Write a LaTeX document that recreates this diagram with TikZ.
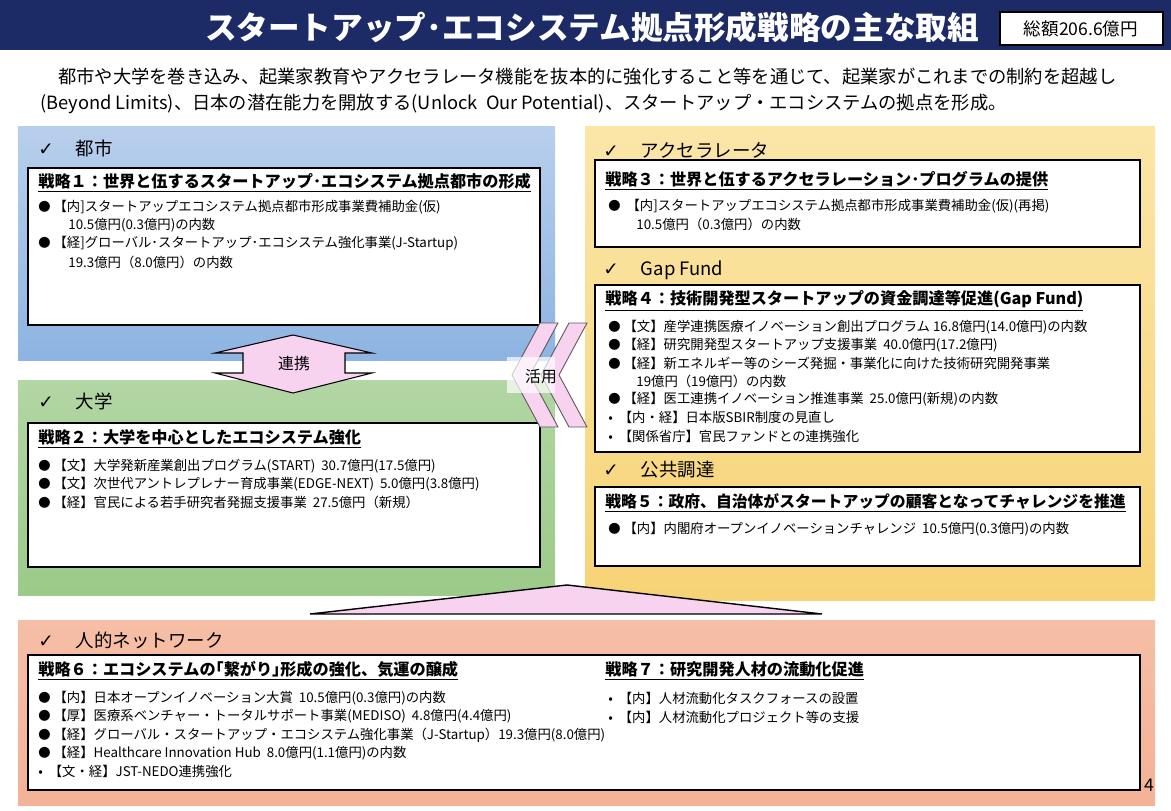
\documentclass[tikz,border=0pt]{standalone}
\usepackage{fontspec}
\setmainfont{Noto Sans CJK JP}
\newfontfamily\djv{DejaVu Sans}
\usetikzlibrary{positioning}
\definecolor{navy}{HTML}{1C2A66}
\definecolor{pinkf}{HTML}{F8D3F0}
\tikzset{
  sec/.style={anchor=west,inner sep=0pt,font=\fontsize{10.5}{12}\selectfont},
  head/.style={anchor=west,inner sep=0pt,font=\fontsize{9.2}{11}\selectfont\bfseries},
  item/.style={anchor=west,inner sep=0pt,font=\fontsize{7.6}{9}\selectfont},
  wbox/.style={draw=black,line width=1.3pt,fill=white},
}
\newcommand{\chk}{{\djv\char"2713}\hspace{1.2em}}
\newcommand{\bl}{{\scriptsize●}}
\begin{document}
\begin{tikzpicture}[x=0.02cm,y=-0.02cm]
\useasboundingbox (0,0) rectangle (1171,811);

% title bar
\fill[navy] (0,0) rectangle (1171,50);
\node[text=white,font=\fontsize{18}{20}\selectfont\bfseries] (title) at (592,27) {スタートアップ･エコシステム拠点形成戦略の主な取組};
\draw[fill=white,line width=1pt] (1000,12) rectangle (1163,45);
\node[font=\fontsize{10}{12}\selectfont] (total) at (1081,29) {総額206.6億円};

% intro
\node[anchor=west,inner sep=0pt,font=\fontsize{10.4}{12}\selectfont] (intro1) at (58,77) {都市や大学を巻き込み、起業家教育やアクセラレータ機能を抜本的に強化すること等を通じて、起業家がこれまでの制約を超越し};
\node[anchor=west,inner sep=0pt,font=\fontsize{10.4}{12}\selectfont] (intro2) at (40,104) {(Beyond Limits)、日本の潜在能力を開放する(Unlock\ \ Our Potential)、スタートアップ・エコシステムの拠点を形成。};

% colour panels
\shade[top color={rgb,255:red,184;green,207;blue,236},bottom color={rgb,255:red,141;green,180;blue,226}] (18,127) rectangle (555,360);
\shade[top color={rgb,255:red,178;green,214;blue,164},bottom color={rgb,255:red,156;green,202;blue,136}] (18,380) rectangle (555,595);
\shade[top color={rgb,255:red,251;green,230;blue,168},bottom color={rgb,255:red,247;green,211;blue,118}] (585,127) rectangle (1155,600);
\shade[top color={rgb,255:red,246;green,190;blue,166},bottom color={rgb,255:red,244;green,178;blue,150}] (18,620) rectangle (1155,805);

% section labels
\node[sec] (city) at (38,148) {\chk 都市};
\node[sec] (univ) at (38,401) {\chk 大学};
\node[sec] (accel) at (603,150) {\chk アクセラレータ};
\node[sec] (gap) at (603,270) {\chk Gap Fund};
\node[sec] (proc) at (603,470) {\chk 公共調達};
\node[sec] (human) at (38,640) {\chk 人的ネットワーク};

% white boxes
\draw[wbox] (28,168) rectangle (540,325);
\draw[wbox] (28,423) rectangle (540,567);
\draw[wbox] (595,160) rectangle (1140,247);
\draw[wbox] (595,285) rectangle (1140,452);
\draw[wbox] (595,487) rectangle (1140,566);
\draw[wbox] (28,655) rectangle (1140,790);

% strategy 1
\node[head] (s1) at (38,183) {\underline{戦略１：世界と伍するスタートアップ･エコシステム拠点都市の形成}};
\node[item] (s1a) at (38,207) {\bl\ 【内]スタートアップエコシステム拠点都市形成事業費補助金(仮)};
\node[item] (s1b) at (68,225) {10.5億円(0.3億円)の内数};
\node[item] (s1c) at (38,243) {\bl\ 【経]グローバル･スタートアップ･エコシステム強化事業(J-Startup)};
\node[item] (s1d) at (68,262) {19.3億円（8.0億円）の内数};

% strategy 2
\node[head] (s2) at (38,439) {\underline{戦略２：大学を中心としたエコシステム強化}};
\foreach \t [count=\i] in {【文】大学発新産業創出プログラム(START)\ \ 30.7億円(17.5億円),
  【文】次世代アントレプレナー育成事業(EDGE-NEXT)\ \ 5.0億円(3.8億円),
  【経】官民による若手研究者発掘支援事業\ \ 27.5億円（新規）}
  \node[item] (s2\i) at (38,448+18*\i) {\bl\ \t};

% strategy 3
\node[head] (s3) at (605,181) {\underline{戦略３：世界と伍するアクセラレーション･プログラムの提供}};
\node[item] (s3a) at (608,206) {\bl\ \ 【内]スタートアップエコシステム拠点都市形成事業費補助金(仮)(再掲)};
\node[item] (s3b) at (636,224) {10.5億円（0.3億円）の内数};

% strategy 4
\node[head] (s4) at (605,301) {\underline{戦略４：技術開発型スタートアップの資金調達等促進(Gap Fund)}};
\node[item] (s4a) at (608,327) {\bl\ 【文】産学連携医療イノベーション創出プログラム 16.8億円(14.0億円)の内数};
\node[item] (s4b) at (608,345) {\bl\ 【経】研究開発型スタートアップ支援事業\ \ 40.0億円(17.2億円)};
\node[item] (s4c) at (608,363) {\bl\ 【経】新エネルギー等のシーズ発掘・事業化に向けた技術研究開発事業};
\node[item] (s4d) at (636,381) {19億円（19億円）の内数};
\node[item] (s4e) at (608,399) {\bl\ 【経】医工連携イノベーション推進事業\ \ 25.0億円(新規)の内数};
\node[item] (s4f) at (608,417) {•\ \ 【内・経】日本版SBIR制度の見直し};
\node[item] (s4g) at (608,436) {•\ \ 【関係省庁】官民ファンドとの連携強化};

% strategy 5
\node[head,font=\fontsize{9}{11}\selectfont\bfseries] (s5) at (605,503) {\underline{戦略５：政府、自治体がスタートアップの顧客となってチャレンジを推進}};
\node[item] (s5a) at (608,529) {\bl\ 【内】内閣府オープンイノベーションチャレンジ\ \ 10.5億円(0.3億円)の内数};

% strategy 6
\node[head] (s6) at (38,671) {\underline{戦略６：エコシステムの｢繋がり｣形成の強化、気運の醸成}};
\foreach \b/\t [count=\i] in {\bl/【内】日本オープンイノベーション大賞\ \ 10.5億円(0.3億円)の内数,
  \bl/【厚】医療系ベンチャー・トータルサポート事業(MEDISO)\ \ 4.8億円(4.4億円),
  \bl/【経】グローバル・スタートアップ・エコシステム強化事業（J-Startup）19.3億円(8.0億円),
  \bl/【経】Healthcare Innovation Hub\ \ 8.0億円(1.1億円)の内数,
  •/\ 【文・経】JST-NEDO連携強化}
  \node[item] (s6\i) at (38,680+18.3*\i) {\b\ \t};

% strategy 7
\node[head] (s7) at (605,671) {\underline{戦略７：研究開発人材の流動化促進}};
\node[item] (s7a) at (608,698) {•\ \ 【内】人材流動化タスクフォースの設置};
\node[item] (s7b) at (608,717) {•\ \ 【内】人材流動化プロジェクト等の支援};

% link arrow between city and university
\draw[fill=pinkf,line width=0.6pt] (293,335) -- (372,353) -- (345,353) -- (345,373) -- (372,373)
  -- (293,393) -- (215,373) -- (243,373) -- (243,353) -- (215,353) -- cycle;
\node[font=\fontsize{9}{11}\selectfont] (link) at (294,364) {連携};

% chevrons
\draw[fill=pinkf,draw=gray!70!black,line width=0.5pt] (540,323) -- (558,323) -- (530,375) -- (558,427) -- (540,427) -- (512,375) -- cycle;
\draw[fill=pinkf,draw=gray!70!black,line width=0.5pt] (569,323) -- (587,323) -- (559,375) -- (587,427) -- (569,427) -- (541,375) -- cycle;
\fill[white,opacity=0.7] (507,357) rectangle (555,393);
\node[font=\fontsize{9}{11}\selectfont] (use) at (541,377) {活用};

% triangle to human network
\draw[fill=pinkf,line width=0.8pt] (310,614) -- (567,585) -- (822,614) -- cycle;

% page number
\node[font=\fontsize{10}{12}\selectfont] (page) at (1149,785) {4};
\end{tikzpicture}
\end{document}
